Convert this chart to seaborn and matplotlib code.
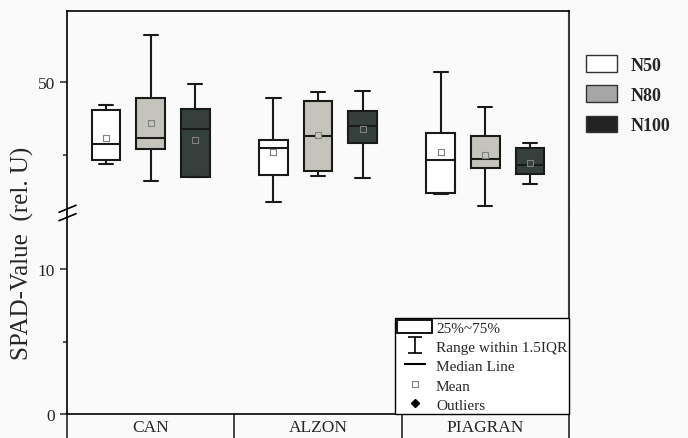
import pandas as pd
import seaborn as sns
import matplotlib.pyplot as plt
from matplotlib.patches import Patch
from matplotlib.lines import Line2D
from matplotlib.path import Path

sites = ["CAN", "ALZON", "PIAGRAN"]
levels = ["N50", "N80", "N100"]

# box statistics, order: CAN N50/N80/N100, ALZON ..., PIAGRAN ...
whisk_lo = [44.40, 43.20, 43.49, 41.80, 43.56, 43.45, 42.35, 41.53, 43.03]
q1 = [44.66, 45.43, 43.49, 43.65, 43.92, 45.82, 42.42, 44.11, 43.70]
median = [45.73, 46.16, 46.80, 45.50, 46.30, 46.99, 44.68, 44.75, 44.34]
q3 = [48.06, 48.88, 48.17, 46.03, 48.70, 47.99, 46.48, 46.30, 45.48]
whisk_hi = [48.42, 53.22, 49.84, 48.90, 49.29, 49.40, 50.66, 48.27, 45.80]
means = [46.19, 47.19, 46.05, 45.21, 46.35, 46.78, 45.23, 44.98, 44.47]

box_colors = ["#ffffff", "#c4c4bc", "#353f3c"]
legend_colors = ["#ffffff", "#a6a6a6", "#222222"]

rows, mean_rows = [], []
i = 0
for s in sites:
    for lv in levels:
        for v in (whisk_lo[i], q1[i], median[i], q3[i], whisk_hi[i]):
            rows.append((s, lv, v))
        mean_rows.append((s, lv, means[i]))
        i += 1
df = pd.DataFrame(rows, columns=["site", "level", "value"])
mdf = pd.DataFrame(mean_rows, columns=["site", "level", "mean"])

sns.set_style("ticks")
plt.rcParams["font.family"] = ["Liberation Serif", "DejaVu Serif"]

W, H = 688, 439
fig = plt.figure(figsize=(6.88, 4.39), dpi=100, facecolor="#fafafa")
left, right = 67 / W, 569 / W
y_top, y_brk, y_bot = 1 - 12 / H, 1 - 214 / H, 1 - 415 / H
ax_top = fig.add_axes([left, y_brk, right - left, y_top - y_brk])
ax_bot = fig.add_axes([left, y_bot, right - left, y_brk - y_bot])

sns.boxplot(data=df, x="site", y="value", hue="level", order=sites, hue_order=levels,
            palette=box_colors, saturation=1, whis=(0, 100), width=0.8, gap=0.36,
            linecolor="#1a1a1a", linewidth=1.5, fliersize=0, legend=False, ax=ax_top)
sns.stripplot(data=mdf, x="site", y="mean", hue="level", order=sites, hue_order=levels,
              palette=box_colors, dodge=True, jitter=False, marker="s", size=4,
              edgecolor="#808080", linewidth=0.8, legend=False, zorder=5, ax=ax_top)

for ax in (ax_top, ax_bot):
    ax.set_facecolor("#fafafa")
    ax.set_xlim(-0.5, 2.5)
    ax.set_xlabel("")
    ax.set_ylabel("")
    for sp in ax.spines.values():
        sp.set_linewidth(1.2)
        sp.set_color("black")
    ax.spines["right"].set_color("#3a3a3a")
    ax.spines["right"].set_linewidth(1.5)
    ax.tick_params(axis="y", which="major", direction="out", length=5, width=1.1,
                   labelsize=12.5, right=False)
    ax.tick_params(axis="y", which="minor", direction="out", length=3, width=1.1, right=False)

ax_top.set_ylim(41.03, 54.86)
ax_top.set_yticks([50])
ax_top.set_yticks([45], minor=True)
ax_top.spines["bottom"].set_visible(False)
ax_top.tick_params(axis="x", which="both", bottom=False, top=False, labelbottom=False)

ax_bot.set_ylim(0, 13.9)
ax_bot.set_yticks([0, 10])
ax_bot.set_yticks([5], minor=True)
ax_bot.spines["top"].set_visible(False)
ax_bot.set_xticks([0, 1, 2], labels=sites)
ax_bot.set_xticks([-0.5, 0.5, 1.5, 2.5], minor=True)
ax_bot.tick_params(axis="x", which="major", length=0, pad=3.5, labelsize=12.5)
ax_bot.tick_params(axis="x", which="minor", direction="out", length=30, width=1.2)

# axis break marks
for y0 in (213.3, 221.7):
    fig.add_artist(Line2D([59 / W, 76 / W], [1 - y0 / H, 1 - (y0 - 7) / H],
                          color="black", lw=1.2))

fig.text(22 / W, 1 - 253 / H, "SPAD-Value  (rel. U)", rotation=90,
         ha="center", va="center", fontsize=18)

# key inside the plot
whisker_path = Path([(-0.9, 1), (0.9, 1), (0, 1), (0, -1), (-0.9, -1), (0.9, -1)],
                    [Path.MOVETO, Path.LINETO, Path.MOVETO, Path.LINETO,
                     Path.MOVETO, Path.LINETO])
key_handles = [
    Patch(facecolor="white", edgecolor="black", linewidth=1.3),
    Line2D([], [], ls="none", marker=whisker_path, markersize=11, mec="black", mew=1.2),
    Line2D([], [], ls="none", marker="_", markersize=16, mec="black", mew=1.5),
    Line2D([], [], ls="none", marker="s", markersize=4, mfc="white", mec="#808080", mew=0.8),
    Line2D([], [], ls="none", marker="D", markersize=4, color="black"),
]
key_labels = ["25%~75%", "Range within 1.5IQR", "Median Line", "Mean", "Outliers"]
key = ax_bot.legend(key_handles, key_labels, loc="lower right", borderaxespad=0,
                    frameon=True, fancybox=False, edgecolor="black", facecolor="white",
                    framealpha=1, fontsize=11, handlelength=2.3, handleheight=1.0,
                    handletextpad=0.25, labelspacing=0.28, borderpad=0.12)
key.get_frame().set_linewidth(1.0)

# treatment legend outside
lev_handles = [Patch(facecolor=c, edgecolor="#333333", linewidth=1.0) for c in legend_colors]
fig.legend(lev_handles, levels, loc="upper left", bbox_to_anchor=(586 / W, 1 - 56 / H),
           frameon=False, prop={"weight": "bold", "size": 13}, handlelength=1.7,
           handleheight=1.05, handletextpad=0.8, labelspacing=0.65, borderpad=0,
           borderaxespad=0)

fig.savefig("out.png", dpi=100, facecolor=fig.get_facecolor())
